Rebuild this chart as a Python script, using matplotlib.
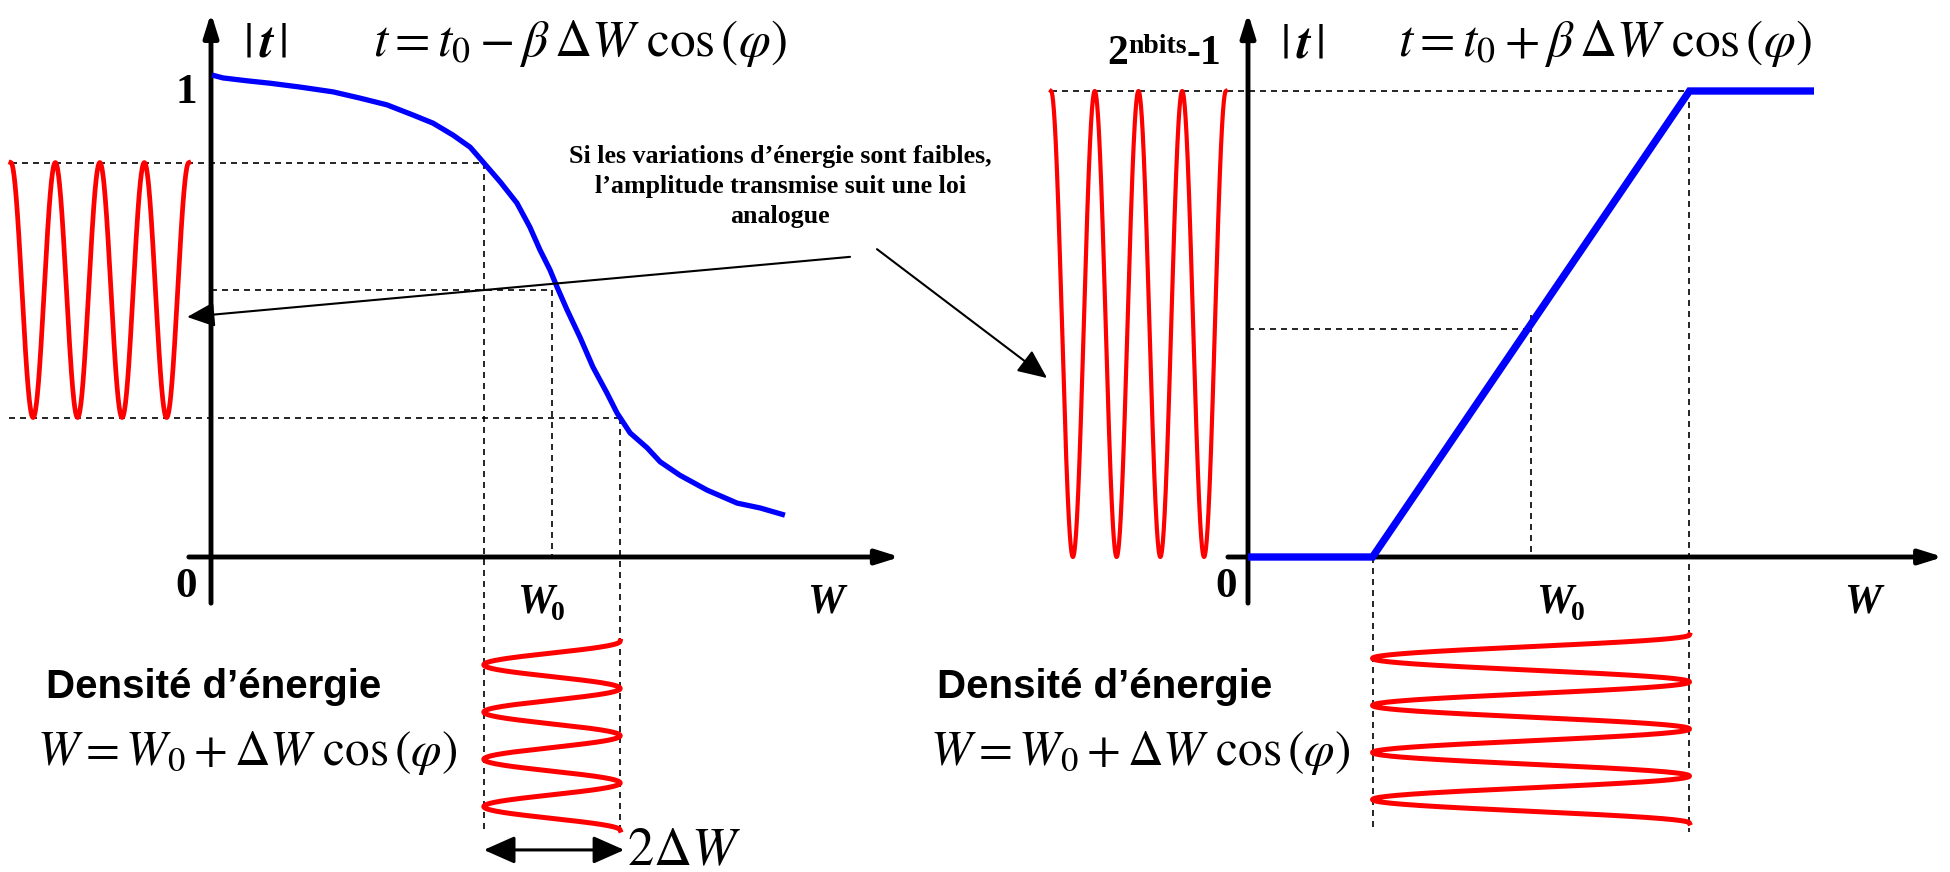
import numpy as np
import matplotlib
matplotlib.use("Agg")
import matplotlib.pyplot as plt

plt.rcParams['mathtext.fontset'] = 'stix'

w_curve = [0.003, 0.035, 0.106, 0.173, 0.261, 0.358, 0.437, 0.516, 0.592, 0.651,
           0.710, 0.760, 0.798, 0.848, 0.897, 0.935, 0.965, 0.994, 1.015, 1.044,
           1.082, 1.120, 1.161, 1.191, 1.229, 1.279, 1.317, 1.375, 1.455, 1.543,
           1.610, 1.683]
t_curve = [1.002, 0.996, 0.990, 0.985, 0.977, 0.967, 0.954, 0.940, 0.919, 0.902,
           0.877, 0.852, 0.821, 0.780, 0.736, 0.686, 0.638, 0.597, 0.561, 0.514,
           0.457, 0.395, 0.341, 0.299, 0.258, 0.227, 0.198, 0.170, 0.139, 0.112,
           0.102, 0.087]
W0_left, dW_left = 1.0, 0.2
t_hi_left, t0_left, t_lo_left = 0.82, 0.555, 0.29

# right panel: clipped linear transfer, saturates at 2^nbits-1
w_ramp = [0.0, 0.44, 1.56, 2.0]
t_ramp = [0.0, 0.0, 1.0, 1.0]
W0_right, dW_right = 1.0, 0.56
t0_right = 0.49

n_periods = 4

RED = '#ff0000'
BLUE = '#0000ff'
SERIF = 'Liberation Serif'


def frame(ax, x0, y0, sx, sy, left, right):
    # map panel units onto figure pixels (origin x0,y0; sx,sy px per unit)
    ax.set_xlim((left - x0) / sx, (right - x0) / sx)
    ax.set_ylim((y0 - 872) / sy, y0 / sy)
    ax.axis('off')


def arrow(ax, start, end, lw=3.5, hl=0.7, hw=0.22, style='-|>', **kw):
    ax.annotate('', xy=end, xytext=start,
                arrowprops=dict(arrowstyle=f'{style},head_length={hl},head_width={hw}',
                                lw=lw, color='k', shrinkA=0, shrinkB=0,
                                mutation_scale=20),
                annotation_clip=False, **kw)


def dashed(ax, xs, ys):
    ax.plot(xs, ys, color='k', lw=1.2, linestyle=(0, (3.6, 3.0)), zorder=1,
            clip_on=False)


def w0_label(ax, x, y):
    tw = ax.text(x, y, 'W', fontsize=30, family=SERIF, weight='bold',
                 style='italic', va='baseline', ha='left')
    ax.annotate('0', xy=(0.93, 0.22), xycoords=tw, fontsize=20, family=SERIF,
                weight='bold', va='center', ha='left')


fig = plt.figure(figsize=(19.5, 8.72), dpi=100)
axL = fig.add_axes([0, 0, 0.5, 1])
axR = fig.add_axes([0.5, 0, 0.5, 1])
frame(axL, 211, 557, 341, 481, 0, 975)
frame(axR, 1248, 557, 283, 466, 975, 1950)

top_fmt = r'$t = t_0 %s \beta\,\Delta W\ \cos\left(\varphi\right)$'
bot_fmt = r'$W = W_0 + \Delta W\ \cos\left(\varphi\right)$'
abs_t = r'$|\,\boldsymbol{t}\,|$'

# ---------------- left panel ----------------
phase = np.linspace(0, 2 * np.pi * n_periods, 600)
s = phase / phase[-1]

out_x = -0.587 + s * (-0.065 + 0.587)
dashed(axL, [out_x[0], W0_left - dW_left], [t_hi_left, t_hi_left])
dashed(axL, [0, W0_left], [t0_left, t0_left])
dashed(axL, [-0.593, W0_left + dW_left], [t_lo_left, t_lo_left])
dashed(axL, [W0_left - dW_left] * 2, [t_hi_left, -0.574])
dashed(axL, [W0_left] * 2, [t0_left, 0])
dashed(axL, [W0_left + dW_left] * 2, [t_lo_left, -0.568])

arrow(axL, (0, -0.096), (0, 1.131))
arrow(axL, (-0.065, 0), (2.02, 0))

axL.plot(w_curve, t_curve, color=BLUE, lw=3.8, zorder=3, solid_capstyle='butt',
         solid_joinstyle='round')
axL.plot(out_x, t0_left + (t_hi_left - t0_left) * np.cos(phase), color=RED,
         lw=3.4, zorder=3, clip_on=False)
in_t = -0.175 + s * (-0.568 + 0.175)
axL.plot(W0_left + dW_left * np.cos(phase), in_t, color=RED, lw=3.6, zorder=3,
         clip_on=False)

arrow(axL, (W0_left - dW_left, -0.609), (W0_left + dW_left + 0.012, -0.609),
      lw=2.2, hl=0.95, hw=0.42, style='<|-|>')
axL.text(1.22, -0.609, r'$2\Delta W$', fontsize=38, va='center', ha='left')

axL.text(-0.041, 0.965, '1', fontsize=31, family=SERIF, weight='bold',
         ha='right', va='center')
axL.text(-0.041, -0.062, '0', fontsize=31, family=SERIF, weight='bold',
         ha='right', va='center')
axL.text(0.158, 1.069, abs_t, fontsize=36, ha='center', va='center')
axL.text(0.475, 1.067, top_fmt % '-', fontsize=37, ha='left', va='center')
w0_label(axL, 0.897, -0.116)
axL.text(1.748, -0.116, 'W', fontsize=30, family=SERIF, weight='bold',
         style='italic', va='baseline', ha='left')
axL.text(-0.484, -0.293, 'Densité d’énergie', fontsize=29,
         family='Liberation Sans', weight='bold', va='baseline', ha='left')
axL.text(-0.510, -0.407, bot_fmt, fontsize=35.5, ha='left', va='center')

axL.text(1.669, 0.770,
         'Si les variations d’énergie sont faibles,\n'
         'l’amplitude transmise suit une loi\nanalogue',
         fontsize=18.7, family=SERIF, weight='bold', ha='center', va='center',
         linespacing=1.38)
arrow(axL, (1.874, 0.624), (-0.070, 0.499), lw=1.5, hl=0.85, hw=0.38)
axR.annotate('', xy=(-0.710, 0.384), xytext=(1.953, 0.640),
             textcoords=axL.transData,
             arrowprops=dict(arrowstyle='-|>,head_length=0.9,head_width=0.4',
                             lw=1.5, color='k', shrinkA=0, shrinkB=0,
                             mutation_scale=20),
             annotation_clip=False, zorder=4)

# ---------------- right panel ----------------
out_xr = -0.696 + s * (-0.078 + 0.696)
dashed(axR, [out_xr[0], w_ramp[2]], [1.0, 1.0])
dashed(axR, [w_ramp[2]] * 2, [1.0, -0.590])
dashed(axR, [0, W0_right], [t0_right, t0_right])
dashed(axR, [W0_right] * 2, [0.52, 0])
dashed(axR, [w_ramp[1]] * 2, [0, -0.590])

arrow(axR, (0, -0.099), (0, 1.167))
arrow(axR, (-0.071, 0), (2.456, 0))

axR.plot(w_ramp, t_ramp, color=BLUE, lw=5.3, zorder=3, solid_joinstyle='miter',
         solid_capstyle='butt')
axR.plot(out_xr, 0.5 + 0.5 * np.cos(phase), color=RED, lw=3.0, zorder=3,
         clip_on=False)
in_tr = -0.167 + s * (-0.571 + 0.167)
axR.plot(W0_right + dW_right * np.cos(phase), in_tr, color=RED, lw=3.6,
         zorder=3, clip_on=False)

t2 = axR.text(-0.498, 1.058, '2', fontsize=30, family=SERIF, weight='bold',
              va='baseline', ha='left')
tn = axR.annotate('nbits', xy=(1.0, 0.37), xycoords=t2, fontsize=20,
                  family=SERIF, weight='bold', va='bottom', ha='left')
axR.annotate('-1', xy=(1.0, 0.0), xycoords=(tn, t2), fontsize=30,
             family=SERIF, weight='bold', va='bottom', ha='left')
axR.text(-0.039, -0.064, '0', fontsize=31, family=SERIF, weight='bold',
         ha='right', va='center')
axR.text(0.191, 1.103, abs_t, fontsize=36, ha='center', va='center')
axR.text(0.530, 1.101, top_fmt % '+', fontsize=37, ha='left', va='center')
w0_label(axR, 1.018, -0.120)
axR.text(2.106, -0.120, 'W', fontsize=30, family=SERIF, weight='bold',
         style='italic', va='baseline', ha='left')
axR.text(-1.099, -0.303, 'Densité d’énergie', fontsize=29,
         family='Liberation Sans', weight='bold', va='baseline', ha='left')
axR.text(-1.124, -0.421, bot_fmt, fontsize=35.5, ha='left', va='center')

fig.savefig('out.png', dpi=100)
